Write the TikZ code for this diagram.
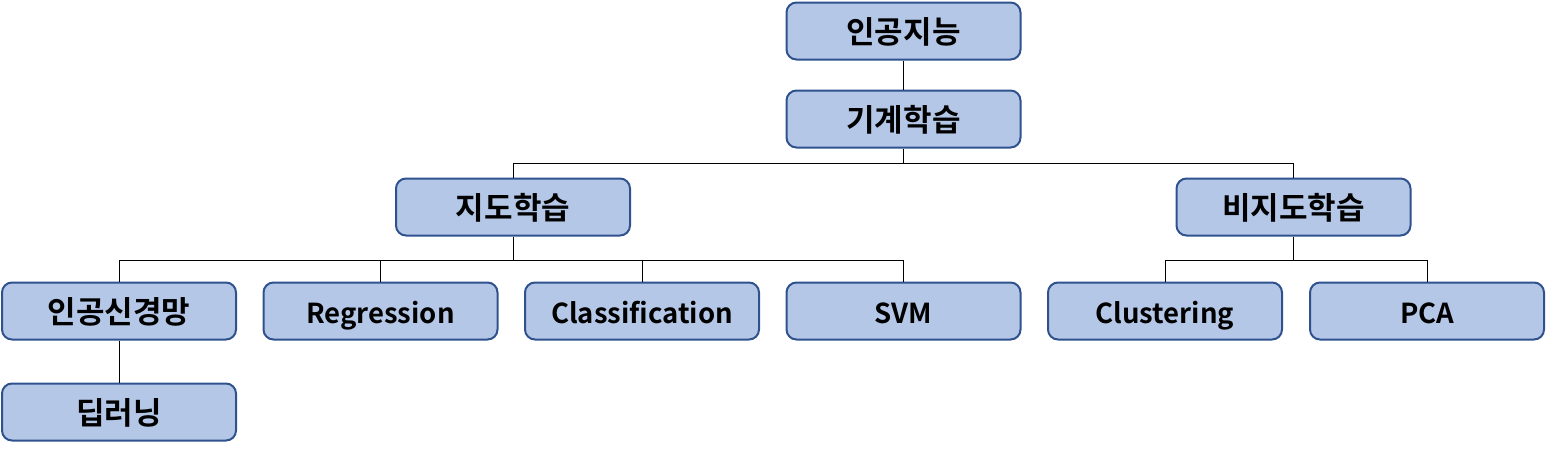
\documentclass[tikz,border=0pt]{standalone}
\usepackage{fontspec}
\setmainfont{Noto Sans CJK KR}[BoldFont={* Bold}]
\definecolor{boxfill}{HTML}{B4C7E7}
\definecolor{boxline}{HTML}{2F528F}
\begin{document}
\begin{tikzpicture}[x=1pt,y=-1pt,
  box/.style={draw=boxline, fill=boxfill, line width=2pt, rounded corners=10pt,
    minimum width=234pt, minimum height=57pt, inner sep=0pt,
    text height=26pt, text depth=2pt, text=black},
  kor/.style={box, font=\fontsize{31}{36}\selectfont\bfseries},
  lat/.style={box, font=\fontsize{27.5}{32}\selectfont\bfseries},
  link/.style={draw=black, line width=1pt}]
\useasboundingbox (0,0) rectangle (1546,448);
\node[kor] (ai)  at (903.5,31) {인공지능};
\node[kor] (ml)  at (903.5,119) {기계학습};
\node[kor] (sup) at (513,207) {지도학습};
\node[kor] (uns) at (1293.5,207) {비지도학습};
\node[kor] (ann) at (119,311) {인공신경망};
\node[lat] (reg) at (380.5,311) {Regression};
\node[lat] (cls) at (642,311) {Classification};
\node[lat] (svm) at (903.5,311) {SVM};
\node[lat] (clu) at (1165,311) {Clustering};
\node[lat] (pca) at (1427,311) {PCA};
\node[kor] (dl)  at (119,412) {딥러닝};
\coordinate (j1) at (903.5,163);
\coordinate (j2) at (513,260);
\coordinate (j3) at (1293.5,260);
\draw[link] (ai.south) -- (ml.north);
\draw[link] (ml.south) -- (j1) -| (sup.north);
\draw[link] (j1) -| (uns.north);
\draw[link] (sup.south) -- (j2) -| (ann.north);
\draw[link] (j2) -| (reg.north);
\draw[link] (j2) -| (cls.north);
\draw[link] (j2) -| (svm.north);
\draw[link] (uns.south) -- (j3) -| (clu.north);
\draw[link] (j3) -| (pca.north);
\draw[link] (ann.south) -- (dl.north);
\end{tikzpicture}
\end{document}
